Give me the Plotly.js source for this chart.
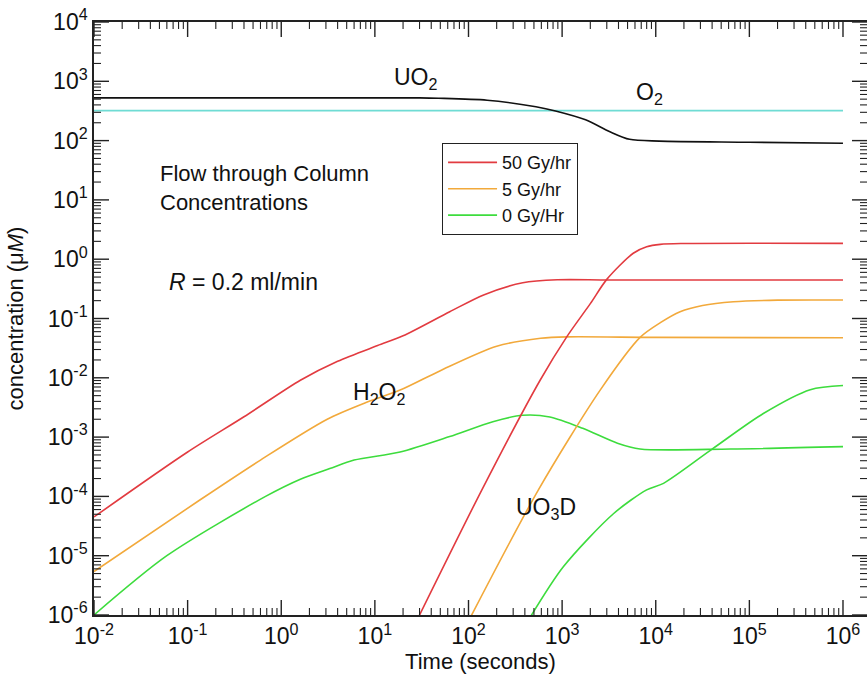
<!DOCTYPE html>
<html>
<head>
<meta charset="utf-8">
<script src="https://cdn.plot.ly/plotly-3.0.1.min.js"></script>
<style>
  html, body { margin: 0; padding: 0; background: #fff; }
  #chart { width: 867px; height: 685px; }
</style>
</head>
<body>
<div id="chart"></div>
<script>
// Flow-through column concentrations versus time (log-log)

// UO2 surface species and dissolved O2
const tUO2 = [0.01, 30, 48, 158, 525, 850, 1780, 3240, 5250, 10900, 100000, 1000000];
const cUO2 = [525, 525, 518, 480, 372, 316, 224, 141, 105, 98, 94, 90];
const tO2 = [0.01, 1000000];
const cO2 = [320, 320];

// H2O2 for the three dose rates
const tH2O2_50 = [0.01, 0.1, 0.4, 1.6, 4, 10.7, 20, 63, 145, 380, 890, 3200, 1000000];
const cH2O2_50 = [4.5e-5, 5.6e-4, 2.2e-3, 9.1e-3, 0.019, 0.035, 0.051, 0.13, 0.25, 0.40, 0.45, 0.447, 0.445];
const tH2O2_5 = [0.01, 0.135, 0.6, 3.1, 8.3, 18.6, 50, 200, 590, 1120, 10000, 1000000];
const cH2O2_5 = [5.4e-6, 8.7e-5, 4.1e-4, 2.0e-3, 3.9e-3, 6.2e-3, 0.0132, 0.034, 0.0463, 0.049, 0.048, 0.0474];
const tH2O2_0 = [0.01, 0.06, 0.68, 1.6, 3.3, 6, 18.6, 63, 182, 380, 740, 1660, 3900, 6800, 63000, 1000000];
const cH2O2_0 = [1e-6, 1e-5, 1e-4, 1.95e-4, 2.95e-4, 4.1e-4, 5.6e-4, 1.02e-3, 1.82e-3, 2.34e-3, 2.19e-3, 1.41e-3, 7.9e-4, 6.3e-4, 6.3e-4, 6.9e-4];

// UO3D for the three dose rates
const tUO3D_50 = [28, 139, 582, 1120, 2000, 3000, 5750, 8000, 11200, 20000, 1000000];
const cUO3D_50 = [8e-7, 1.29e-4, 9.1e-3, 0.049, 0.178, 0.457, 1.26, 1.62, 1.78, 1.84, 1.85];
const tUO3D_5 = [100, 558, 2550, 6800, 11200, 18200, 31600, 67600, 200000, 1000000];
const cUO3D_5 = [7.9e-7, 1.29e-4, 6.2e-3, 0.048, 0.085, 0.13, 0.166, 0.192, 0.204, 0.205];
const tUO3D_0 = [433, 1030, 3530, 8000, 12100, 41300, 141000, 447000, 1000000];
const cUO3D_0 = [8e-7, 6.5e-6, 5.1e-5, 1.29e-4, 1.66e-4, 6.5e-4, 2.5e-3, 6.3e-3, 7.4e-3];

// Axis ticks (decades) and their labels
const xTickVals = [1e-2, 1e-1, 1e0, 1e1, 1e2, 1e3, 1e4, 1e5, 1e6];
const xTickText = ['10<sup>-2</sup>', '10<sup>-1</sup>', '10<sup>0</sup>', '10<sup>1</sup>', '10<sup>2</sup>',
                   '10<sup>3</sup>', '10<sup>4</sup>', '10<sup>5</sup>', '10<sup>6</sup>'];
const yTickVals = [1e-6, 1e-5, 1e-4, 1e-3, 1e-2, 1e-1, 1e0, 1e1, 1e2, 1e3, 1e4];
const yTickText = ['10<sup>-6</sup>', '10<sup>-5</sup>', '10<sup>-4</sup>', '10<sup>-3</sup>', '10<sup>-2</sup>',
                   '10<sup>-1</sup>', '10<sup>0</sup>', '10<sup>1</sup>', '10<sup>2</sup>', '10<sup>3</sup>', '10<sup>4</sup>'];
const minorMantissas = [2, 3, 4, 5, 6, 7, 8, 9];

const doseNames = ['50 Gy/hr', '5 Gy/hr', '0 Gy/Hr'];
const doseColors = ['#e23b40', '#f2a93b', '#3ddc3d'];

const FONT = 'Liberation Sans, Arial, Helvetica, sans-serif';
const INK = '#222';
const MAJOR_LEN = 15, MINOR_LEN = 7;

function curve(x, y, color, opts) {
  return Object.assign({
    x: x, y: y, type: 'scatter', mode: 'lines',
    line: { color: color, width: 1.6, shape: 'spline', smoothing: 0.8 },
    hoverinfo: 'skip', showlegend: false
  }, opts || {});
}

const traces = [
  curve(tO2, cO2, '#6fdcd4', { name: 'O2' }),
  curve(tUO2, cUO2, '#111', { name: 'UO2' }),
  curve(tH2O2_50, cH2O2_50, doseColors[0], { name: doseNames[0], showlegend: true, legendgroup: 'd50' }),
  curve(tH2O2_5, cH2O2_5, doseColors[1], { name: doseNames[1], showlegend: true, legendgroup: 'd5' }),
  curve(tH2O2_0, cH2O2_0, doseColors[2], { name: doseNames[2], showlegend: true, legendgroup: 'd0' }),
  curve(tUO3D_50, cUO3D_50, doseColors[0], { name: doseNames[0], legendgroup: 'd50' }),
  curve(tUO3D_5, cUO3D_5, doseColors[1], { name: doseNames[1], legendgroup: 'd5' }),
  curve(tUO3D_0, cUO3D_0, doseColors[2], { name: doseNames[2], legendgroup: 'd0' })
];

// Inward-pointing tick marks on all four sides (major decades + minor 2..9)
function tickPositions(decades) {
  const major = decades.slice();
  const minor = [];
  for (let i = 0; i < decades.length - 1; i++) {
    minorMantissas.forEach(m => minor.push(m * decades[i]));
  }
  return { major, minor };
}

function frameTicks() {
  const shapes = [];
  const line = (w) => ({ color: INK, width: w });
  const xt = tickPositions(xTickVals);
  const yt = tickPositions(yTickVals);
  const addX = (vals, len, w) => vals.forEach(v => {
    // bottom edge, pointing up
    shapes.push({ type: 'line', xref: 'x', yref: 'paper', ysizemode: 'pixel', yanchor: 0,
                  x0: v, x1: v, y0: 0, y1: len, line: line(w) });
    // top edge, pointing down
    shapes.push({ type: 'line', xref: 'x', yref: 'paper', ysizemode: 'pixel', yanchor: 1,
                  x0: v, x1: v, y0: 0, y1: -len, line: line(w) });
  });
  const addY = (vals, len, w) => vals.forEach(v => {
    // left edge, pointing right
    shapes.push({ type: 'line', yref: 'y', xref: 'paper', xsizemode: 'pixel', xanchor: 0,
                  y0: v, y1: v, x0: 0, x1: len, line: line(w) });
    // right edge, pointing left
    shapes.push({ type: 'line', yref: 'y', xref: 'paper', xsizemode: 'pixel', xanchor: 1,
                  y0: v, y1: v, x0: 0, x1: -len, line: line(w) });
  });
  addX(xt.major, MAJOR_LEN, 1.4);
  addX(xt.minor, MINOR_LEN, 1.1);
  addY(yt.major, MAJOR_LEN, 1.4);
  addY(yt.minor, MINOR_LEN, 1.1);
  return shapes;
}

const axisCommon = {
  type: 'log',
  showline: true, linecolor: INK, linewidth: 1.5,
  showgrid: false, zeroline: false, ticks: '',
  tickmode: 'array',
  tickfont: { family: FONT, size: 23, color: '#111' }
};

function label(text, px, py, extra) {
  return Object.assign({
    text: text, xref: 'paper', yref: 'paper',
    x: (px - 94) / 773, y: (615 - py) / 593,
    xanchor: 'center', yanchor: 'middle',
    showarrow: false, font: { family: FONT, size: 23, color: '#111' }
  }, extra || {});
}

const layout = {
  width: 867, height: 685,
  margin: { l: 94, r: 0, t: 22, b: 70 },
  paper_bgcolor: '#fff', plot_bgcolor: '#fff',
  font: { family: FONT, color: '#111' },
  showlegend: true,
  xaxis: Object.assign({}, axisCommon, {
    range: [-2, 6.2564], mirror: true,
    tickvals: xTickVals, ticktext: xTickText,
    title: { text: 'Time (seconds)', font: { family: FONT, size: 22, color: '#111' }, standoff: 2 }
  }),
  yaxis: Object.assign({}, axisCommon, {
    range: [-6, 4], mirror: false,
    tickvals: yTickVals, ticktext: yTickText,
    title: { text: 'concentration (\u03bc<i>M</i>)', font: { family: FONT, size: 22, color: '#111' }, standoff: 18 }
  }),
  legend: {
    x: 0.450, y: 0.796, xanchor: 'left', yanchor: 'top',
    bgcolor: '#fff', bordercolor: INK, borderwidth: 1.2,
    font: { family: FONT, size: 18, color: '#111' },
    tracegroupgap: 0, itemwidth: 49
  },
  shapes: frameTicks(),
  annotations: [
    label('UO<sub>2</sub>', 416, 78),
    label('O<sub>2</sub>', 649, 94),
    label('Flow through Column<br>Concentrations', 158, 188, { xanchor: 'left', align: 'left', font: { family: FONT, size: 22, color: '#111' } }),
    label('<i>R</i> = 0.2 ml/min', 167, 282, { xanchor: 'left' }),
    label('H<sub>2</sub>O<sub>2</sub>', 379, 393),
    label('UO<sub>3</sub>D', 546, 508)
  ]
};

Plotly.newPlot('chart', traces, layout, { displayModeBar: false });
</script>
</body>
</html>
